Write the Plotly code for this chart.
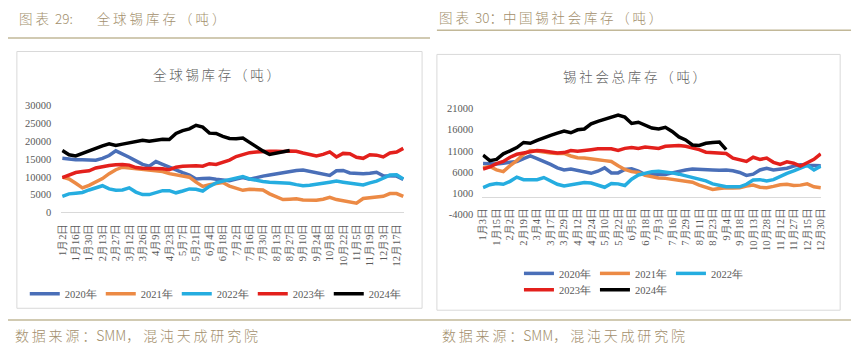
import plotly.graph_objects as go

W, H = 859, 354

# ---------------- data: left chart (全球锡库存) ----------------
global_dates = ["1月2日","1月9日","1月16日","1月23日","1月30日","2月6日","2月13日","2月20日","2月27日",
                "3月5日","3月12日","3月19日","3月26日","4月2日","4月9日","4月16日","4月23日","4月30日",
                "5月7日","5月14日","5月21日","5月28日","6月4日","6月11日","6月18日","6月25日",
                "7月2日","7月9日","7月16日","7月23日","7月30日","8月6日","8月13日","8月20日","8月27日",
                "9月3日","9月10日","9月17日","9月24日","10月1日","10月8日","10月15日","10月22日","10月29日",
                "11月5日","11月12日","11月19日","11月26日","12月3日","12月10日","12月17日","12月24日"]

global_2020 = [15200,14900,14800,14800,14800,14700,15200,16000,17300,16500,15500,14500,13500,13000,14300,13500,
               12700,11800,11200,10500,9400,9500,9600,9300,9100,8900,9400,9800,9300,9800,10200,10500,10800,11200,
               11600,11800,11900,11500,11000,10700,10400,11700,11800,11100,10900,10900,11000,11300,10300,10300,10200,9300]
global_2021 = [9900,9400,8200,6900,7600,8500,9500,10900,12000,12700,12500,12300,11900,11700,11600,11500,10900,10600,
               10300,9900,8500,7300,7800,8200,8400,7400,6800,6200,6500,6300,6300,5200,4300,3600,3700,3800,3500,3400,
               3400,3700,4200,3600,3200,2900,2600,3900,4100,4300,4500,5300,5300,4500]
global_2022 = [4500,5200,5400,5600,6300,7000,7500,6600,6200,6300,6900,5700,5000,5000,5600,6100,6100,5500,6000,6600,
               6500,6000,7300,8300,8800,9300,9700,10100,9400,9000,8700,8500,8400,8400,8200,7800,7500,7600,8000,8200,
               8500,8800,8500,8200,8000,7700,8300,8800,9600,10500,10600,9400]
global_2023 = [9800,10500,11200,11500,11700,12500,12900,13200,13400,13500,13300,12600,12400,12400,12400,12300,12000,
               12700,13000,13100,13100,13000,13700,13500,14000,14700,15700,16200,16800,17000,17200,17200,17200,17100,
               17300,17200,16700,16200,15900,16300,17000,15600,16600,16500,15500,15200,16200,16100,15600,16700,17000,18000]
global_2024 = [17400,16200,15900,16600,17500,18000,18700,19300,18800,19200,19600,20000,20300,20000,20300,20600,20500,
               22200,23000,23500,24500,24000,22300,22200,21400,20800,20700,20900,19700,18400,17300,16300,16600,17000,17400]

global_ticks = global_dates[::2]
global_yticks = [0, 5000, 10000, 15000, 20000, 25000, 30000]

# ---------------- data: right chart (锡社会总库存) ----------------
social_dates = ["1月3日","1月9日","1月15日","1月22日","2月2日","2月10日","2月19日","2月26日","3月4日","3月11日",
                "3月17日","3月23日","3月29日","4月5日","4月12日","4月18日","4月24日","5月3日","5月10日","5月16日",
                "5月22日","5月29日","6月5日","6月12日","6月18日","6月25日","7月3日","7月10日","7月16日","7月22日",
                "7月29日","8月4日","8月11日","8月17日","8月23日","8月29日","9月4日","9月11日","9月18日","9月29日",
                "10月13日","10月20日","10月28日","11月4日","11月12日","11月19日","11月27日","12月4日","12月15日",
                "12月22日","12月30日"]

social_2020 = [8000,7900,7900,8100,8300,8500,9200,9800,9200,8600,7800,7000,6500,6700,6300,5900,5700,6200,7000,5800,
               5800,6600,6800,6200,5400,5400,5300,5400,5800,6200,6500,6700,6700,6500,6500,6400,6500,6300,5900,5200,
               5500,6500,6900,6500,6600,6900,7400,7700,7600,7600,7500]
social_2021 = [7000,7300,6500,6100,7500,8700,10200,11100,11000,10700,10500,10400,10400,9800,9400,9300,9000,8900,8700,
               8500,7500,6600,6100,5900,5200,4800,4600,4500,4300,4100,3900,3600,2900,2300,1900,2100,2300,2200,2300,
               2700,2900,2400,2300,2600,3000,3100,2800,2900,3200,2500,2300]
social_2022 = [2300,3000,3300,3100,3800,4800,4200,4100,4200,4700,3900,3100,2700,3000,3100,3500,3400,2900,2400,3300,
               3200,2800,4300,5300,5800,6100,6200,6100,5800,5500,5100,4800,4400,3900,3200,2800,2500,2500,2500,3100,
               4100,4200,3900,4200,5000,5700,6300,6900,7600,6500,7400]
social_2023 = [6700,7200,8000,8500,9500,10200,10500,10700,11100,11000,10800,10500,10600,11100,10900,11000,11300,11500,
               11600,11500,11100,11600,11800,11600,11900,11800,11600,12100,12300,12300,12100,11800,11300,10700,10600,
               10500,10400,9300,9000,8500,9500,9000,9300,8300,7800,8400,8100,7400,8200,9000,10300]
social_2024 = [10000,8700,9000,10300,11000,11800,13000,12800,13500,14200,14700,15200,15700,15300,16000,16200,17400,
               18000,18500,18900,19500,19000,17500,17800,17000,16400,16200,16600,15600,14300,13600,12400,12300,12800,
               13000,13100,11300]

social_ticks = social_dates[::2]
social_yticks = [-4000, 1000, 6000, 11000, 16000, 21000]

years = ["2020年", "2021年", "2022年", "2023年", "2024年"]
colors = ["#4A6FB8", "#EC8A45", "#25ADE0", "#E3201C", "#000000"]

# ---------------- helpers ----------------
def X(px):
    return px / W

def Y(py):
    return 1 - py / H

THIN = "\u2009"
NB = "\u00a0"

def sp(s, sep=THIN):
    return sep.join(list(s))

SERIF = "'Liberation Serif', 'Times New Roman', Tinos, 'DejaVu Serif', serif"
AX_FONT = dict(family=SERIF, size=10.5, color="#595959")
HDR_COLOR = "#A38F6C"
LINE_COLOR = "#C2B898"

fig = go.Figure()

g_series = [global_2020, global_2021, global_2022, global_2023, global_2024]
s_series = [social_2020, social_2021, social_2022, social_2023, social_2024]

for i, (name, col) in enumerate(zip(years, colors)):
    vals = g_series[i]
    fig.add_trace(go.Scatter(x=global_dates[:len(vals)], y=vals, mode="lines", name=name,
                             line=dict(color=col, width=3.5), xaxis="x", yaxis="y",
                             legend="legend", hoverinfo="skip"))
for i, (name, col) in enumerate(zip(years, colors)):
    vals = s_series[i]
    fig.add_trace(go.Scatter(x=social_dates[:len(vals)], y=vals, mode="lines", name=name,
                             line=dict(color=col, width=3.5), xaxis="x2", yaxis="y2",
                             legend="legend2" if i < 3 else "legend3", hoverinfo="skip"))

legend_common = dict(orientation="h", xanchor="left", yanchor="middle", bgcolor="rgba(0,0,0,0)",
                     font=dict(family=SERIF, size=10.5, color="#595959"),
                     entrywidthmode="pixels", entrywidth=31, itemwidth=30, traceorder="normal")

fig.update_layout(
    width=W, height=H, margin=dict(l=0, r=0, t=0, b=0),
    paper_bgcolor="white", plot_bgcolor="white", showlegend=True,
    xaxis=dict(domain=[X(57), X(404)], type="category", categoryorder="array", categoryarray=global_dates,
               range=[-0.15, 51.15], tickmode="array", tickvals=global_ticks, ticktext=global_ticks,
               tickangle=-90, tickfont=AX_FONT, showgrid=False, zeroline=False,
               showline=True, linecolor="#D9D9D9", linewidth=1,
               ticks="outside", ticklen=6, tickcolor="rgba(0,0,0,0)", anchor="y", fixedrange=True),
    yaxis=dict(domain=[Y(214), Y(104)], range=[0, 30000], tickmode="array", tickvals=global_yticks,
               ticktext=[str(v) for v in global_yticks],
               tickfont=AX_FONT, showgrid=False, zeroline=False, showline=False,
               ticks="outside", ticklen=7, tickcolor="rgba(0,0,0,0)", anchor="x", fixedrange=True),
    xaxis2=dict(domain=[X(483), X(826)], type="category", categoryorder="array", categoryarray=social_dates,
                range=[-0.1, 50.1], tickmode="array", tickvals=social_ticks, ticktext=social_ticks,
                tickangle=-90, tickfont=AX_FONT, showgrid=False, zeroline=False, showline=False,
                ticks="outside", ticklen=1, tickcolor="rgba(0,0,0,0)",
                anchor="free", position=Y(203), fixedrange=True),
    yaxis2=dict(domain=[Y(216), Y(107)], range=[-4000, 21000], tickmode="array", tickvals=social_yticks,
                ticktext=[str(v) for v in social_yticks],
                tickfont=AX_FONT, showgrid=False, zeroline=True, zerolinecolor="#D9D9D9", zerolinewidth=1,
                showline=False, ticks="outside", ticklen=6, tickcolor="rgba(0,0,0,0)",
                anchor="x2", fixedrange=True),
    legend=dict(x=X(20), y=Y(298), **legend_common),
    legend2=dict(x=X(520), y=Y(277), **legend_common),
    legend3=dict(x=X(520), y=Y(294), **legend_common),
)

shapes = [
    dict(type="rect", xref="paper", yref="paper", x0=X(12), x1=X(422), y0=Y(48), y1=Y(313),
         line=dict(color="#D9D9D9", width=1), layer="below"),
    dict(type="rect", xref="paper", yref="paper", x0=X(437), x1=X(845), y0=Y(51), y1=Y(315),
         line=dict(color="#D9D9D9", width=1), layer="below"),
    dict(type="line", xref="paper", yref="paper", x0=X(3), x1=X(430), y0=Y(34), y1=Y(34),
         line=dict(color=LINE_COLOR, width=1.5)),
    dict(type="line", xref="paper", yref="paper", x0=X(437), x1=X(856), y0=Y(26), y1=Y(26),
         line=dict(color=LINE_COLOR, width=1.5)),
    dict(type="line", xref="paper", yref="paper", x0=X(3), x1=X(856), y0=Y(325), y1=Y(325),
         line=dict(color=LINE_COLOR, width=1.5)),
]

HDR_FONT = dict(family="'Noto Sans CJK SC'", size=13.5, color=HDR_COLOR, weight=300)
TTL_FONT = dict(family="'Noto Sans CJK SC'", size=13.5, color="#606060", weight=300)

hdr_left = "图" + NB + "表" + NB * 2 + "29:" + NB * 8 + sp("全球锡库存（吨）", NB)
hdr_right = "图" + NB + "表" + NB * 2 + "30：" + sp("中国锡社会库存（吨）")
foot = sp("数据来源：") + "SMM" + sp("，混沌天成研究院")

annotations = [
    dict(text=hdr_left, x=X(12), y=Y(13), xref="paper", yref="paper",
         xanchor="left", yanchor="middle", showarrow=False, font=HDR_FONT),
    dict(text=hdr_right, x=X(437), y=Y(12), xref="paper", yref="paper",
         xanchor="left", yanchor="middle", showarrow=False, font=HDR_FONT),
    dict(text=sp("全球锡库存（吨）"), x=X(214), y=Y(71), xref="paper", yref="paper",
         xanchor="center", yanchor="middle", showarrow=False, font=TTL_FONT),
    dict(text=sp("锡社会总库存（吨）"), x=X(637), y=Y(73), xref="paper", yref="paper",
         xanchor="center", yanchor="middle", showarrow=False, font=TTL_FONT),
    dict(text=foot, x=X(8), y=Y(341), xref="paper", yref="paper",
         xanchor="left", yanchor="middle", showarrow=False, font=dict(HDR_FONT, size=14)),
    dict(text=foot, x=X(440), y=Y(341), xref="paper", yref="paper",
         xanchor="left", yanchor="middle", showarrow=False, font=dict(HDR_FONT, size=14)),
]

fig.update_layout(shapes=shapes, annotations=annotations)

fig.write_html("out.html", config={"displayModeBar": False})
